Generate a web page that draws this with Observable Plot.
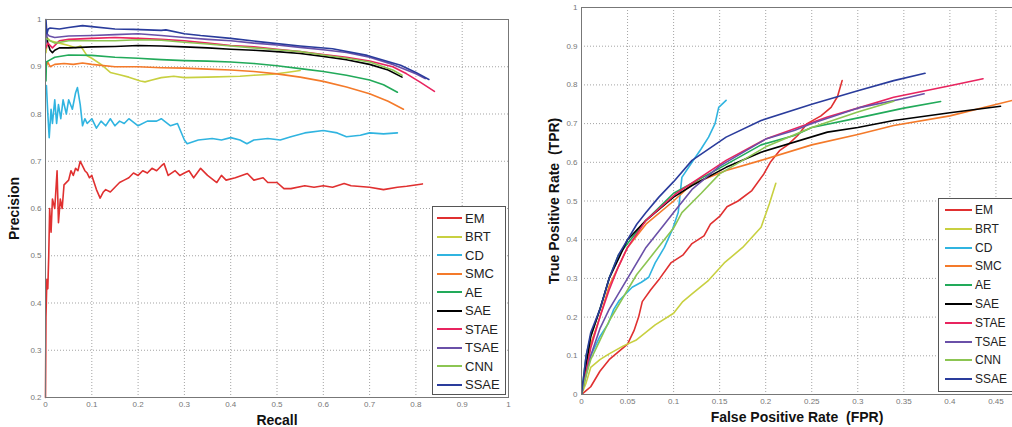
<!DOCTYPE html>
<html>
<head>
<meta charset="utf-8">
<script src="https://cdn.jsdelivr.net/npm/d3@7"></script>
<script src="https://cdn.jsdelivr.net/npm/@observablehq/plot@0.6"></script>
<style>
  html, body { margin: 0; padding: 0; background: #fff; }
  #wrap { position: relative; width: 1012px; height: 427px; overflow: hidden; font-family: "Liberation Sans", Arial, sans-serif; }
  .panel { position: absolute; top: 0; }
  .panel svg { display: block; }
  svg [aria-label="x-axis label"] text, svg [aria-label="y-axis label"] text { font-size: 14px; font-weight: bold; fill: #111; }
  svg [aria-label="x-axis tick label"] text, svg [aria-label="y-axis tick label"] text { fill: #777; }
  .legend { position: absolute; background: #fff; border: 1px solid #555; box-sizing: border-box; }
  .legend .row { position: absolute; left: 0; height: 18px; display: flex; align-items: center; color: #222; }
  .legend .sw { display: inline-block; height: 2px; }
</style>
</head>
<body>
<div id="wrap"></div>
<script>
// ---------- series names & colours ----------
const seriesNames = ["EM", "BRT", "CD", "SMC", "AE", "SAE", "STAE", "TSAE", "CNN", "SSAE"];
const seriesColors = ["#e03030", "#c8d040", "#30b4e0", "#f47a2a", "#22aa5a", "#000000", "#e8245f", "#6a50a8", "#8cc552", "#2a3c9c"];

// ---------- tick values ----------
const prTicksX = [0, 0.1, 0.2, 0.3, 0.4, 0.5, 0.6, 0.7, 0.8, 0.9, 1];
const prTicksY = [0.2, 0.3, 0.4, 0.5, 0.6, 0.7, 0.8, 0.9, 1];
const rocTicksX = [0, 0.05, 0.1, 0.15, 0.2, 0.25, 0.3, 0.35, 0.4, 0.45];
const rocTicksY = [0, 0.1, 0.2, 0.3, 0.4, 0.5, 0.6, 0.7, 0.8, 0.9, 1];

// ---------- Precision-Recall curves [recall, precision] ----------
const prEM = [[0,0.2],[0.001,0.37],[0.003,0.45],[0.005,0.43],[0.007,0.5],[0.009,0.6],[0.012,0.55],[0.015,0.62],[0.02,0.6],[0.025,0.68],[0.028,0.57],[0.032,0.62],[0.036,0.6],[0.04,0.65],[0.05,0.66],[0.055,0.68],[0.06,0.67],[0.065,0.685],[0.07,0.68],[0.075,0.7],[0.08,0.69],[0.085,0.68],[0.09,0.675],[0.095,0.665],[0.1,0.67],[0.105,0.655],[0.11,0.64],[0.118,0.622],[0.125,0.635],[0.13,0.64],[0.14,0.635],[0.15,0.645],[0.16,0.655],[0.17,0.66],[0.18,0.665],[0.19,0.675],[0.2,0.67],[0.21,0.68],[0.22,0.675],[0.23,0.685],[0.24,0.68],[0.25,0.69],[0.256,0.695],[0.265,0.67],[0.28,0.68],[0.29,0.67],[0.3,0.675],[0.31,0.68],[0.32,0.665],[0.335,0.685],[0.35,0.67],[0.37,0.655],[0.38,0.67],[0.39,0.66],[0.41,0.665],[0.436,0.674],[0.45,0.66],[0.47,0.665],[0.48,0.655],[0.5,0.655],[0.515,0.642],[0.53,0.642],[0.56,0.648],[0.58,0.645],[0.6,0.648],[0.62,0.645],[0.645,0.653],[0.66,0.648],[0.7,0.645],[0.73,0.64],[0.76,0.645],[0.78,0.647],[0.814,0.652]];
const prBRT = [[0.001,0.93],[0.005,0.96],[0.01,0.955],[0.03,0.95],[0.05,0.945],[0.065,0.94],[0.076,0.944],[0.09,0.923],[0.1,0.918],[0.12,0.905],[0.14,0.888],[0.16,0.883],[0.18,0.878],[0.205,0.87],[0.215,0.868],[0.23,0.872],[0.25,0.877],[0.277,0.88],[0.3,0.877],[0.35,0.878],[0.42,0.88],[0.45,0.882],[0.49,0.884],[0.52,0.888],[0.55,0.892]];
const prCD = [[0.002,0.86],[0.005,0.8],[0.008,0.75],[0.012,0.81],[0.015,0.78],[0.02,0.83],[0.024,0.78],[0.028,0.82],[0.033,0.79],[0.038,0.83],[0.045,0.8],[0.05,0.83],[0.058,0.81],[0.065,0.845],[0.069,0.856],[0.075,0.82],[0.08,0.775],[0.085,0.79],[0.09,0.78],[0.1,0.79],[0.11,0.77],[0.12,0.785],[0.13,0.775],[0.14,0.79],[0.15,0.775],[0.16,0.785],[0.17,0.78],[0.18,0.79],[0.2,0.775],[0.22,0.785],[0.24,0.785],[0.25,0.79],[0.27,0.775],[0.285,0.78],[0.3,0.745],[0.306,0.737],[0.33,0.745],[0.36,0.748],[0.38,0.745],[0.4,0.75],[0.42,0.745],[0.435,0.737],[0.45,0.745],[0.48,0.748],[0.507,0.745],[0.53,0.752],[0.56,0.76],[0.6,0.765],[0.63,0.76],[0.65,0.752],[0.68,0.755],[0.7,0.76],[0.73,0.758],[0.76,0.76]];
const prSMC = [[0.001,0.9],[0.005,0.91],[0.01,0.9],[0.02,0.905],[0.04,0.907],[0.06,0.905],[0.08,0.908],[0.1,0.905],[0.15,0.9],[0.2,0.9],[0.25,0.898],[0.3,0.897],[0.35,0.895],[0.4,0.893],[0.45,0.89],[0.5,0.885],[0.55,0.878],[0.6,0.869],[0.65,0.857],[0.7,0.843],[0.74,0.827],[0.773,0.81]];
const prAE = [[0.001,0.87],[0.002,0.91],[0.005,0.912],[0.02,0.92],[0.05,0.925],[0.1,0.924],[0.15,0.92],[0.2,0.918],[0.25,0.915],[0.3,0.913],[0.35,0.912],[0.4,0.91],[0.45,0.907],[0.5,0.902],[0.55,0.896],[0.6,0.89],[0.65,0.882],[0.7,0.872],[0.73,0.862],[0.76,0.846]];
const prSAE = [[0.001,0.97],[0.005,0.95],[0.01,0.935],[0.015,0.93],[0.02,0.935],[0.03,0.94],[0.05,0.94],[0.1,0.942],[0.15,0.943],[0.2,0.945],[0.25,0.944],[0.3,0.942],[0.35,0.94],[0.4,0.937],[0.45,0.935],[0.5,0.932],[0.55,0.928],[0.6,0.922],[0.65,0.915],[0.7,0.905],[0.74,0.893],[0.77,0.878]];
const prSTAE = [[0.001,0.94],[0.005,0.95],[0.015,0.94],[0.03,0.955],[0.05,0.958],[0.1,0.96],[0.15,0.962],[0.2,0.96],[0.25,0.958],[0.3,0.955],[0.35,0.95],[0.4,0.945],[0.45,0.942],[0.5,0.937],[0.55,0.932],[0.6,0.926],[0.65,0.92],[0.7,0.912],[0.75,0.9],[0.78,0.885],[0.81,0.867],[0.84,0.848]];
const prTSAE = [[0.001,0.95],[0.003,0.97],[0.008,0.965],[0.02,0.962],[0.05,0.965],[0.1,0.966],[0.15,0.968],[0.2,0.97],[0.25,0.966],[0.3,0.962],[0.35,0.958],[0.4,0.955],[0.45,0.95],[0.5,0.946],[0.55,0.941],[0.6,0.936],[0.65,0.93],[0.7,0.92],[0.75,0.905],[0.8,0.885],[0.82,0.875]];
const prCNN = [[0.001,0.96],[0.01,0.955],[0.02,0.95],[0.05,0.955],[0.1,0.955],[0.15,0.955],[0.2,0.957],[0.25,0.956],[0.3,0.952],[0.35,0.948],[0.4,0.944],[0.45,0.94],[0.5,0.936],[0.55,0.932],[0.6,0.925],[0.65,0.918],[0.7,0.91],[0.75,0.893],[0.77,0.882]];
const prSSAE = [[0.001,1.0],[0.003,0.97],[0.006,0.98],[0.01,0.982],[0.03,0.98],[0.05,0.983],[0.08,0.987],[0.1,0.985],[0.15,0.98],[0.19,0.979],[0.25,0.977],[0.26,0.978],[0.3,0.97],[0.335,0.966],[0.4,0.96],[0.48,0.951],[0.55,0.944],[0.62,0.938],[0.695,0.924],[0.767,0.903],[0.8,0.888],[0.828,0.873]];

// ---------- ROC curves [FPR, TPR] ----------
const rocEM = [[0,0],[0.005,0.01],[0.01,0.02],[0.02,0.06],[0.03,0.09],[0.04,0.11],[0.05,0.13],[0.057,0.165],[0.062,0.2],[0.066,0.24],[0.075,0.27],[0.085,0.3],[0.097,0.34],[0.11,0.36],[0.12,0.39],[0.133,0.41],[0.14,0.44],[0.15,0.46],[0.158,0.485],[0.17,0.5],[0.185,0.527],[0.198,0.57],[0.205,0.6],[0.215,0.63],[0.224,0.645],[0.235,0.67],[0.245,0.7],[0.26,0.72],[0.271,0.742],[0.278,0.77],[0.283,0.811]];
const rocBRT = [[0,0],[0.005,0.03],[0.01,0.07],[0.02,0.09],[0.03,0.105],[0.045,0.125],[0.059,0.14],[0.08,0.18],[0.1,0.21],[0.11,0.24],[0.12,0.26],[0.138,0.295],[0.155,0.34],[0.175,0.38],[0.195,0.432],[0.204,0.493],[0.211,0.546]];
const rocCD = [[0,0],[0.005,0.06],[0.01,0.1],[0.02,0.15],[0.029,0.183],[0.035,0.22],[0.041,0.243],[0.05,0.265],[0.055,0.277],[0.065,0.29],[0.073,0.303],[0.08,0.34],[0.09,0.38],[0.099,0.428],[0.105,0.47],[0.109,0.561],[0.12,0.6],[0.13,0.635],[0.138,0.665],[0.145,0.7],[0.149,0.742],[0.157,0.76]];
const rocSMC = [[0,0],[0.01,0.13],[0.02,0.2],[0.03,0.28],[0.04,0.33],[0.05,0.38],[0.07,0.44],[0.1,0.5],[0.12,0.544],[0.157,0.579],[0.195,0.605],[0.25,0.645],[0.3,0.672],[0.339,0.695],[0.4,0.72],[0.468,0.76]];
const rocAE = [[0,0],[0.005,0.1],[0.01,0.15],[0.02,0.22],[0.03,0.3],[0.04,0.36],[0.05,0.39],[0.07,0.45],[0.1,0.52],[0.15,0.585],[0.195,0.645],[0.231,0.669],[0.25,0.69],[0.303,0.716],[0.35,0.74],[0.39,0.757]];
const rocSAE = [[0,0],[0.01,0.15],[0.02,0.22],[0.03,0.3],[0.04,0.35],[0.05,0.4],[0.07,0.45],[0.1,0.51],[0.12,0.54],[0.157,0.587],[0.195,0.626],[0.267,0.678],[0.3,0.69],[0.339,0.708],[0.4,0.728],[0.455,0.745]];
const rocSTAE = [[0,0],[0.01,0.12],[0.02,0.2],[0.03,0.27],[0.04,0.33],[0.05,0.38],[0.07,0.45],[0.102,0.518],[0.157,0.605],[0.2,0.66],[0.267,0.717],[0.3,0.74],[0.339,0.768],[0.4,0.798],[0.436,0.816]];
const rocTSAE = [[0,0],[0.01,0.1],[0.02,0.17],[0.03,0.22],[0.04,0.26],[0.05,0.3],[0.07,0.38],[0.09,0.44],[0.1,0.47],[0.12,0.53],[0.15,0.59],[0.2,0.66],[0.231,0.682],[0.25,0.7],[0.303,0.742],[0.35,0.765],[0.372,0.777]];
const rocCNN = [[0,0],[0.005,0.05],[0.01,0.09],[0.02,0.14],[0.03,0.19],[0.04,0.23],[0.05,0.27],[0.06,0.31],[0.07,0.34],[0.08,0.37],[0.1,0.43],[0.109,0.47],[0.13,0.52],[0.15,0.57],[0.2,0.64],[0.25,0.69],[0.3,0.73],[0.339,0.758]];
const rocSSAE = [[0,0],[0.005,0.1],[0.01,0.16],[0.02,0.22],[0.03,0.3],[0.04,0.36],[0.05,0.4],[0.06,0.44],[0.07,0.47],[0.084,0.51],[0.1,0.55],[0.12,0.605],[0.157,0.665],[0.195,0.708],[0.25,0.75],[0.3,0.785],[0.339,0.811],[0.373,0.83]];

const prSeries = [prEM, prBRT, prCD, prSMC, prAE, prSAE, prSTAE, prTSAE, prCNN, prSSAE];
const rocSeries = [rocEM, rocBRT, rocCD, rocSMC, rocAE, rocSAE, rocSTAE, rocTSAE, rocCNN, rocSSAE];

function toRows(list) {
  const rows = [];
  list.forEach((pts, i) => pts.forEach(([x, y]) => rows.push({ name: seriesNames[i], x, y })));
  return rows;
}
const prRows = toRows(prSeries);
const rocRows = toRows(rocSeries);

const colorScale = { domain: seriesNames, range: seriesColors };
const gridStyle = { stroke: "#9a9a9a", strokeOpacity: 0.9, strokeDasharray: "1,2" };
const fmt = d => String(d);

const prChart = Plot.plot({
  width: 520, height: 427,
  marginLeft: 45, marginRight: 12, marginTop: 19, marginBottom: 30,
  style: { fontFamily: "Liberation Sans, Arial, sans-serif", fontSize: "8px", background: "#fff" },
  x: { domain: [0, 1] },
  y: { domain: [0.2, 1] },
  color: colorScale,
  marks: [
    Plot.gridX(prTicksX, gridStyle),
    Plot.gridY(prTicksY, gridStyle),
    Plot.line(prRows, { x: "x", y: "y", z: "name", stroke: "name", strokeWidth: 1.6 }),
    Plot.frame({ stroke: "#777" }),
    Plot.axisX(prTicksX, { tickSize: 0, tickPadding: 4, tickFormat: fmt, label: "Recall", labelAnchor: "center", labelArrow: "none", labelOffset: 27 }),
    Plot.axisY(prTicksY, { tickSize: 0, tickPadding: 4, tickFormat: fmt, label: "Precision", labelAnchor: "center", labelArrow: "none", labelOffset: 36 })
  ]
});

const rocChart = Plot.plot({
  width: 482, height: 427,
  marginLeft: 51, marginRight: 0, marginTop: 7, marginBottom: 33,
  style: { fontFamily: "Liberation Sans, Arial, sans-serif", fontSize: "8px", background: "#fff" },
  x: { domain: [0, 0.468] },
  y: { domain: [0, 1] },
  color: colorScale,
  marks: [
    Plot.gridX(rocTicksX, gridStyle),
    Plot.gridY(rocTicksY, gridStyle),
    Plot.line(rocRows, { x: "x", y: "y", z: "name", stroke: "name", strokeWidth: 1.6, clip: true }),
    Plot.frame({ stroke: "#777" }),
    Plot.axisX(rocTicksX, { tickSize: 0, tickPadding: 4, tickFormat: fmt, label: "False Positive Rate  (FPR)", labelAnchor: "center", labelArrow: "none", labelOffset: 27 }),
    Plot.axisY(rocTicksY, { tickSize: 0, tickPadding: 4, tickFormat: fmt, label: "True Positive Rate  (TPR)", labelAnchor: "center", labelArrow: "none", labelOffset: 32 })
  ]
});

const wrap = document.getElementById("wrap");
const p1 = document.createElement("div"); p1.className = "panel"; p1.style.left = "0px"; p1.appendChild(prChart); wrap.appendChild(p1);
const p2 = document.createElement("div"); p2.className = "panel"; p2.style.left = "530px"; p2.appendChild(rocChart); wrap.appendChild(p2);

function legend(left, top, width, height, firstY, step, swX0, swLen, fontSize) {
  const box = document.createElement("div");
  box.className = "legend";
  Object.assign(box.style, { left: left + "px", top: top + "px", width: width + "px", height: height + "px" });
  seriesNames.forEach((name, i) => {
    const row = document.createElement("div");
    row.className = "row";
    row.style.top = (firstY + i * step - 9) + "px";
    row.style.left = swX0 + "px";
    row.style.fontSize = fontSize + "px";
    const sw = document.createElement("span");
    sw.className = "sw";
    sw.style.width = swLen + "px";
    sw.style.background = seriesColors[i];
    sw.style.marginRight = "3px";
    row.appendChild(sw);
    row.appendChild(document.createTextNode(name));
    box.appendChild(row);
  });
  wrap.appendChild(box);
}
legend(432, 206, 74, 189, 11, 18.5, 4, 25, 13);
legend(938, 198, 80, 194, 11, 18.8, 6, 27, 12);
</script>
</body>
</html>
